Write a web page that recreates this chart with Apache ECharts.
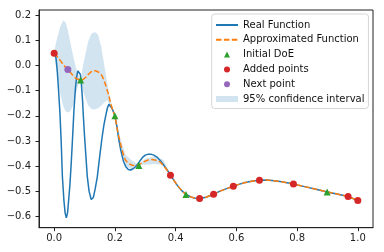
<!DOCTYPE html>
<html><head><meta charset="utf-8">
<script src="https://cdn.jsdelivr.net/npm/echarts@6/dist/echarts.min.js"></script>
<style>html,body{margin:0;padding:0;background:#fff}#c{width:384px;height:252px}</style>
</head><body><div id="c"></div>
<script>
// ---- data ----
const realX = [0.000,0.006,0.010,0.014,0.019,0.023,0.027,0.032,0.036,0.040,0.044,0.048,0.052,0.056,0.060,0.065,0.070,0.074,0.078,0.082,0.086,0.089,0.093,0.096,0.100,0.105,0.109,0.115,0.122,0.129,0.135,0.142,0.150,0.158,0.164,0.169,0.175,0.180,0.185,0.191,0.200,0.207,0.213,0.220,0.228,0.236,0.244,0.252,0.260,0.268,0.276,0.284,0.292,0.300,0.310,0.318,0.328,0.340,0.350,0.361,0.372,0.383,0.395,0.405,0.420,0.434,0.450,0.465,0.480,0.500,0.525,0.550,0.575,0.600,0.625,0.650,0.675,0.700,0.725,0.750,0.788,0.825,0.862,0.899,0.935,0.968,1.000];
const realY = [0.050,0.030,-0.020,-0.090,-0.190,-0.300,-0.440,-0.535,-0.585,-0.605,-0.585,-0.530,-0.470,-0.390,-0.300,-0.180,-0.090,-0.045,-0.022,-0.016,-0.035,-0.065,-0.130,-0.200,-0.280,-0.370,-0.440,-0.500,-0.532,-0.524,-0.490,-0.442,-0.360,-0.283,-0.235,-0.204,-0.170,-0.154,-0.155,-0.171,-0.200,-0.245,-0.296,-0.340,-0.380,-0.402,-0.413,-0.415,-0.410,-0.402,-0.390,-0.376,-0.364,-0.356,-0.352,-0.352,-0.356,-0.365,-0.378,-0.396,-0.415,-0.435,-0.457,-0.475,-0.497,-0.512,-0.522,-0.527,-0.528,-0.523,-0.511,-0.497,-0.486,-0.475,-0.466,-0.460,-0.456,-0.455,-0.458,-0.462,-0.471,-0.481,-0.491,-0.502,-0.511,-0.520,-0.536];

const approxX = [0.000,0.010,0.021,0.032,0.045,0.055,0.065,0.076,0.087,0.095,0.103,0.112,0.120,0.128,0.136,0.145,0.152,0.158,0.165,0.170,0.175,0.180,0.186,0.193,0.200,0.209,0.218,0.227,0.235,0.246,0.257,0.268,0.279,0.295,0.310,0.322,0.335,0.350,0.365,0.383,0.395,0.405,0.420,0.434,0.450,0.465,0.480,0.500,0.525,0.550,0.575,0.600,0.625,0.650,0.675,0.700,0.725,0.750,0.788,0.825,0.862,0.899,0.935,0.968,1.000];
const approxY = [0.048,0.035,0.018,0.000,-0.016,-0.030,-0.045,-0.054,-0.058,-0.056,-0.048,-0.036,-0.027,-0.021,-0.021,-0.026,-0.032,-0.042,-0.062,-0.080,-0.100,-0.120,-0.151,-0.178,-0.200,-0.262,-0.310,-0.350,-0.376,-0.390,-0.396,-0.398,-0.394,-0.382,-0.375,-0.373,-0.376,-0.384,-0.405,-0.435,-0.457,-0.475,-0.497,-0.512,-0.522,-0.527,-0.528,-0.523,-0.511,-0.497,-0.486,-0.475,-0.466,-0.460,-0.456,-0.455,-0.458,-0.462,-0.471,-0.481,-0.491,-0.502,-0.511,-0.520,-0.536];

const bandX    = [0.000,0.005,0.011,0.020,0.030,0.038,0.046,0.054,0.062,0.071,0.080,0.087,0.095,0.103,0.112,0.122,0.133,0.144,0.155,0.164,0.175,0.186,0.193,0.200,0.209,0.218,0.235,0.257,0.279,0.300,0.330,0.360,0.383,0.434,0.480,0.600,1.000];
const bandLow  = [0.048,0.000,-0.045,-0.110,-0.164,-0.183,-0.187,-0.180,-0.158,-0.115,-0.075,-0.058,-0.100,-0.130,-0.158,-0.173,-0.175,-0.170,-0.160,-0.148,-0.138,-0.165,-0.185,-0.200,-0.282,-0.330,-0.398,-0.414,-0.394,-0.394,-0.391,-0.394,-0.435,-0.512,-0.528,-0.475,-0.536];
const bandHigh = [0.048,0.085,0.113,0.155,0.178,0.170,0.135,0.087,0.040,-0.005,-0.040,-0.058,0.000,0.045,0.095,0.125,0.133,0.124,0.074,0.008,-0.071,-0.138,-0.170,-0.200,-0.242,-0.290,-0.354,-0.378,-0.394,-0.370,-0.361,-0.374,-0.435,-0.512,-0.528,-0.475,-0.536];

const doeX = [0.087,0.200,0.279,0.434,0.899];
const doeY = [-0.058,-0.200,-0.397,-0.512,-0.502];
const addedX = [0.000,0.383,0.479,0.525,0.590,0.676,0.788,0.968,1.000];
const addedY = [0.048,-0.436,-0.528,-0.511,-0.479,-0.456,-0.471,-0.520,-0.536];
const nextX = [0.045];
const nextY = [-0.016];

const xTicks = [0.0,0.2,0.4,0.6,0.8,1.0];
const yTicks = [-0.6,-0.5,-0.4,-0.3,-0.2,-0.1,0.0,0.1,0.2];

// ---- build ----
const zip = (a,b) => a.map((v,i)=>[v,b[i]]);
const fmt = v => (Math.abs(v)<1e-9 ? '0.0' : v.toFixed(1).replace('-', '\u2212'));
const FONT = 'DejaVu Sans';
const INK = '#222';

const chart = echarts.init(document.getElementById('c'), null, {renderer:'canvas'});
chart.setOption({
  animation:false,
  backgroundColor:'#fff',
  textStyle:{fontFamily:FONT},
  grid:{left:39, top:10, width:334, height:217.7, show:true, borderColor:INK, borderWidth:1, backgroundColor:'transparent'},
  xAxis:{type:'value', min:-0.05, max:1.05,
    axisLine:{show:true, onZero:false, lineStyle:{color:INK, width:1}},
    axisTick:{show:true, length:3.5, lineStyle:{color:INK}, customValues:xTicks},
    axisLabel:{color:INK, fontSize:10, fontFamily:FONT, margin:6, customValues:xTicks, formatter:fmt},
    splitLine:{show:false}},
  yAxis:{type:'value', min:-0.644, max:0.22,
    axisLine:{show:true, onZero:false, lineStyle:{color:INK, width:1}},
    axisTick:{show:true, length:3.5, lineStyle:{color:INK}, customValues:yTicks},
    axisLabel:{color:INK, fontSize:10, fontFamily:FONT, margin:8, customValues:yTicks, formatter:fmt},
    splitLine:{show:false}},
  legend:{
    orient:'vertical', left:211.7, top:14,
    padding:[5,4,3.5,3.3], itemGap:2.8, itemWidth:22, itemHeight:6,
    symbolKeepAspect:true,
    borderColor:'rgba(204,204,204,0.8)', borderWidth:1, borderRadius:3,
    backgroundColor:'rgba(255,255,255,0.8)',
    textStyle:{fontSize:10, fontFamily:FONT, color:'#111', lineHeight:12},
    data:[
      {name:'Real Function', itemStyle:{opacity:0}},
      {name:'Approximated Function', itemStyle:{opacity:0}},
      {name:'Initial DoE', icon:'path://M3,0 L6,6 L0,6 Z'},
      {name:'Added points'},
      {name:'Next point'},
      {name:'95% confidence interval', icon:'rect'}
    ]
  },
  series:[
    {name:'95% confidence interval', type:'custom', z:1,
     itemStyle:{color:'rgba(31,119,180,0.2)'},
     data: bandX.map((x,i)=>[x,bandLow[i],bandHigh[i]]),
     encode:{x:0, y:[1,2]},
     renderItem:function(params, api){
       if(params.dataIndex!==0) return null;
       const pts=[];
       for(let i=0;i<bandX.length;i++) pts.push(api.coord([bandX[i],bandHigh[i]]));
       for(let i=bandX.length-1;i>=0;i--) pts.push(api.coord([bandX[i],bandLow[i]]));
       return {type:'polygon', shape:{points:pts}, style:{fill:'rgba(31,119,180,0.2)'}, silent:true};
     }},
    {name:'Real Function', type:'line', z:2, data:zip(realX,realY), symbol:'none',
     lineStyle:{color:'#1f77b4', width:1.5}, itemStyle:{color:'#1f77b4'}},
    {name:'Approximated Function', type:'line', z:3, data:zip(approxX,approxY), symbol:'none',
     lineStyle:{color:'#ff7f0e', width:1.5, type:[5.5,2.4]}, itemStyle:{color:'#ff7f0e'}},
    {name:'Initial DoE', type:'scatter', z:4, data:zip(doeX,doeY), symbol:'triangle', symbolSize:7,
     symbolKeepAspect:true, itemStyle:{color:'#2ca02c', opacity:1}},
    {name:'Added points', type:'scatter', z:5, data:zip(addedX,addedY), symbol:'circle', symbolSize:7,
     itemStyle:{color:'#d62728', opacity:1}},
    {name:'Next point', type:'scatter', z:6, data:zip(nextX,nextY), symbol:'circle', symbolSize:7,
     itemStyle:{color:'#9467bd', opacity:1}}
  ]
});
</script></body></html>
